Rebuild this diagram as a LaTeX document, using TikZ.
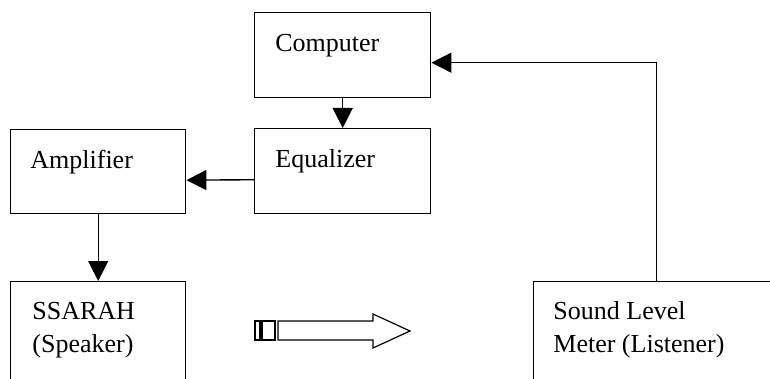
\documentclass[tikz,border=0pt]{standalone}
\usepackage{fontspec}
\setmainfont{Liberation Serif}
\usepackage{xcolor}
\usetikzlibrary{arrows.meta,positioning}

\tikzset{
  block/.style={draw, line width=0.7pt, inner sep=0pt, anchor=north west,
    minimum width=88pt, minimum height=42.5pt},
  caption/.style={anchor=base west, inner sep=0pt, align=left,
    font=\fontsize{13}{16.5}\selectfont},
  conn/.style={line width=0.7pt, -{Triangle[length=10pt,width=10pt]}},
}

\begin{document}
\begin{tikzpicture}[x=0.5pt,y=-0.5pt]

\useasboundingbox (0,0) rectangle (770,379);
\clip (0,0) rectangle (770,379);

\node[block] (comp) at (254,12) {};
\node[block] (equal) at (254,128) {};
\node[block, minimum width=87.5pt, minimum height=42pt] (amp) at (10,129) {};
\node[block, minimum width=87.5pt, minimum height=60pt] (spk) at (10,281) {};
\node[block, minimum width=123pt, minimum height=60pt] (slm) at (533,281) {};

% two-line captions sit on the baseline of their last line
\node[caption] (compT) at ([shift={(21,40)}]comp.north west) {Computer};
\node[caption] (equalT) at ([shift={(21,40)}]equal.north west) {Equalizer};
\node[caption] (ampT) at ([shift={(20,40)}]amp.north west) {Amplifier};
\node[caption] (spkT) at ([shift={(22,71)}]spk.north west) {SSARAH\\(Speaker)};
\node[caption] (slmT) at ([shift={(20,71)}]slm.north west) {Sound Level\\Meter (Listener)};

\draw[conn] (comp) -- (equal);
\draw[conn] ([yshift=-4.25pt]equal.west) -- ([yshift=-4.25pt]amp.east);
\draw[conn] (amp) -- (spk);
\draw[conn] (slm.north) |- ([yshift=-3.75pt]comp.east);

% hollow sound arrow
\draw[line width=0.6pt] (255,321) rectangle (260,340);
\draw[line width=0.6pt] (262,321) rectangle (275,340);
\draw[line width=0.6pt] (278,321) -- (373,321) -- (373,314) -- (410,331)
  -- (373,348) -- (373,340) -- (278,340) -- cycle;

\end{tikzpicture}
\end{document}
